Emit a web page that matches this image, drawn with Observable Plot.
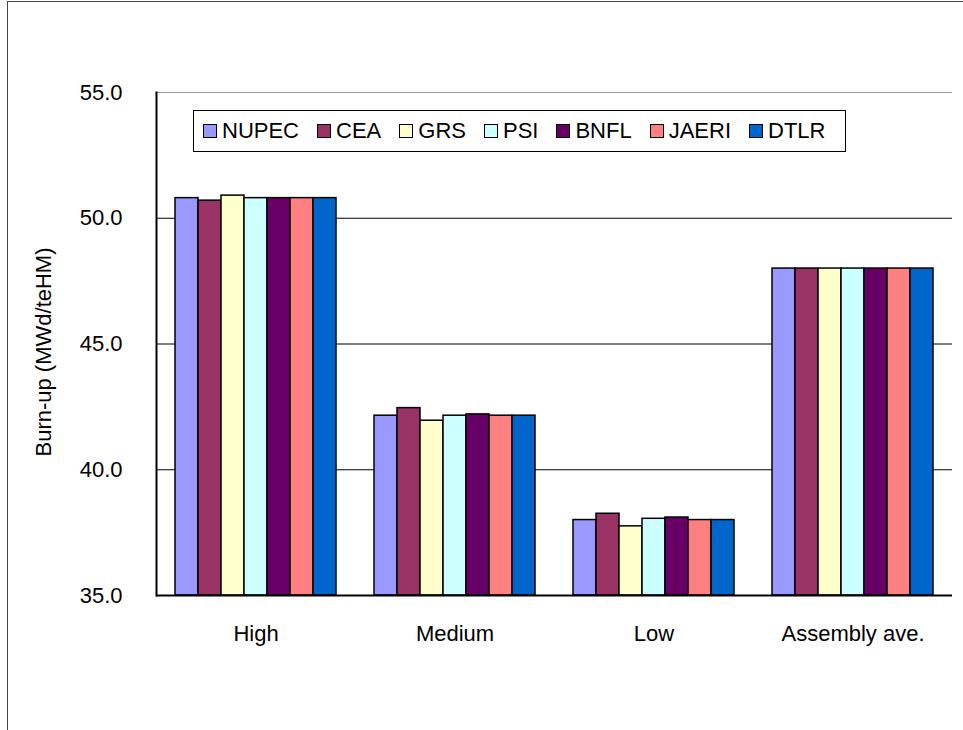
<!DOCTYPE html>
<html>
<head>
<meta charset="utf-8">
<script src="https://cdn.jsdelivr.net/npm/d3@7"></script>
<script src="https://cdn.jsdelivr.net/npm/@observablehq/plot@0.6"></script>
<style>
  html, body { margin: 0; padding: 0; background: #fff; }
  #wrap { position: relative; width: 963px; height: 730px; overflow: hidden; font-family: "Liberation Sans", Arial, sans-serif; }
  #border { position: absolute; left: 7px; top: 1px; width: 1100px; height: 900px; border-left: 1.5px solid #444; border-top: 1.5px solid #444; }
  #chart { position: absolute; left: 0; top: 0; }
  #legend { position: absolute; left: 193px; top: 110px; width: 653px; height: 42px; box-sizing: border-box;
    border: 1px solid #000; background: #fff; display: flex; align-items: center; padding-left: 9px; gap: 18px; font-size: 22px; color: #000; }
  .item { display: flex; align-items: center; }
  .sw { width: 14px; height: 14px; border: 1px solid #000; margin-right: 5px; box-sizing: border-box; }
</style>
</head>
<body>
<div id="wrap">
  <div id="border"></div>
  <div id="chart"></div>
  <div id="legend"></div>
</div>
<script>
const groups = ["High", "Medium", "Low", "Assembly ave."];
const series = ["NUPEC", "CEA", "GRS", "PSI", "BNFL", "JAERI", "DTLR"];
const colors = ["#9999FF", "#993366", "#FFFFCC", "#CCFFFF", "#660066", "#FF8080", "#0066CC"];
const high = [50.8, 50.7, 50.9, 50.8, 50.8, 50.8, 50.8];
const medium = [42.15, 42.45,41.95, 42.15, 42.2, 42.15, 42.15];
const low = [38.0, 38.25, 37.75, 38.05, 38.1, 38.0, 38.0];
const assembly = [48.0, 48.0, 48.0, 48.0, 48.0, 48.0, 48.0];
const yTicks = [35, 40, 45, 50, 55];
const yLabel = "Burn-up (MWd/teHM)";

const valuesByGroup = [high, medium, low, assembly];
const data = [];
groups.forEach((g, gi) => series.forEach((s, si) => data.push({group: g, series: s, value: valuesByGroup[gi][si]})));

const chart = Plot.plot({
  width: 963,
  height: 730,
  marginLeft: 155,
  marginRight: 10,
  marginTop: 92,
  marginBottom: 135,
  style: {fontFamily: "'Liberation Sans', Arial, sans-serif", fontSize: "22px", color: "#000", background: "transparent", overflow: "visible"},
  fx: {domain: groups, padding: 0, label: null, axis: null},
  x: {domain: series, paddingInner: 0, paddingOuter: 0.78, axis: null},
  y: {domain: [35, 55], ticks: yTicks, label: null, axis: null},
  color: {domain: series, range: colors},
  marks: [
    Plot.ruleY(yTicks.filter(t => t > 35 && t < 55), {stroke: "#000", strokeWidth: 1}),
    Plot.ruleY([55], {stroke: "#999", strokeWidth: 1}),
    Plot.barY(data, {fx: "group", x: "series", y1: 35, y2: "value", fill: "series", stroke: "#000", strokeWidth: 1.5}),
    Plot.ruleY([35], {stroke: "#000", strokeWidth: 2}),
    Plot.axisY({ticks: yTicks, tickSize: 0, tickPadding: 34, tickFormat: d3.format(".1f"), label: null, fontSize: 22}),
    Plot.axisFx({anchor: "bottom", tickSize: 0, tickPadding: 30, label: null, fontSize: 22}),
    Plot.frame({anchor: "left", facet: "super", stroke: "#000", strokeWidth: 2}),
    Plot.text([yLabel], {facet: "super", frameAnchor: "left", text: d => d, rotate: -90, dx: -113, dy: 8, fontSize: 22, textAnchor: "middle"})
  ]
});
document.getElementById("chart").appendChild(chart);

const legend = document.getElementById("legend");
series.forEach((s, i) => {
  const item = document.createElement("div");
  item.className = "item";
  const sw = document.createElement("div");
  sw.className = "sw";
  sw.style.background = colors[i];
  const label = document.createElement("span");
  label.textContent = s;
  item.appendChild(sw);
  item.appendChild(label);
  legend.appendChild(item);
});
</script>
</body>
</html>
